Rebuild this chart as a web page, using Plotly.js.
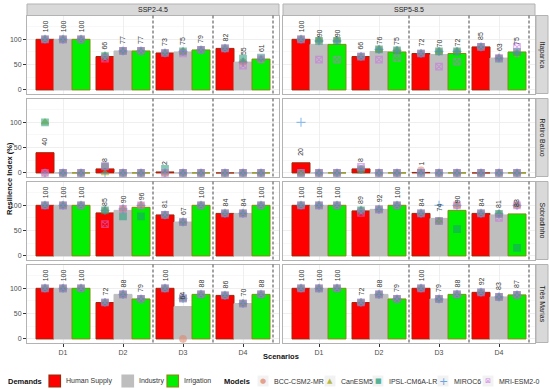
<!DOCTYPE html>
<html><head><meta charset="utf-8">
<script src="https://cdn.plot.ly/plotly-3.0.1.min.js"></script>
<style>html,body{margin:0;padding:0;background:#fff}#chart{width:550px;height:389px}</style>
</head><body><div id="chart"></div>
<script>
const scenarios = ['SSP2-4.5', 'SSP5-8.5'];
const reservoirs = ['Itaparica', 'Retiro Baixo', 'Sobradinho', 'Três Marias'];
const droughts = ['D1', 'D2', 'D3', 'D4'];
const demands = ['Human Supply', 'Industry', 'Irrigation'];
const models = ['BCC-CSM2-MR', 'CanESM5', 'IPSL-CM6A-LR', 'MIROC6', 'MRI-ESM2-0'];

// Ensemble bars: [reservoir][drought]
const humanSSP245 = [[100,66,73,82],[40,8,2,0],[100,85,81,84],[100,72,100,86]];
const industrySSP245 = [[100,77,75,55],[0,0,0,0],[100,90,67,84],[100,88,64,70]];
const irrigationSSP245 = [[100,77,79,61],[0,0,0,0],[100,96,100,100],[100,79,88,88]];
const humanSSP585 = [[100,66,72,85],[20,8,1,0],[100,89,84,84],[100,72,100,92]];
const industrySSP585 = [[90,76,70,63],[0,0,0,0],[100,92,74,81],[100,88,79,83]];
const irrigationSSP585 = [[90,75,72,75],[0,0,0,0],[100,100,90,83],[100,79,88,87]];

// Model values: [reservoir][demand][drought]
const bccSSP245 = [
  [[100,67,73,82],[100,77,75,55],[100,77,79,60]],
  [[0,13,0,0],[0,0,0,0],[0,0,0,0]],
  [[100,90,81,84],[100,93,67,84],[100,100,100,100]],
  [[100,72,100,86],[100,88,0,70],[100,79,88,88]]];
const canSSP245 = [
  [[100,67,73,82],[100,77,76,55],[100,77,79,60]],
  [[100,0,0,0],[0,0,0,0],[0,0,0,0]],
  [[100,90,81,84],[100,93,67,84],[100,100,100,100]],
  [[100,72,100,86],[100,88,80,70],[100,79,88,88]]];
const ipslSSP245 = [
  [[100,67,73,82],[100,77,76,62],[100,77,79,64]],
  [[100,13,8,0],[0,0,0,0],[0,0,0,0]],
  [[100,90,81,84],[100,78,67,84],[100,78,100,100]],
  [[100,72,100,86],[100,88,80,70],[100,79,88,88]]];
const mirocSSP245 = [
  [[100,67,73,82],[100,77,76,55],[100,77,79,60]],
  [[0,0,0,0],[0,0,0,0],[0,0,0,0]],
  [[100,90,81,84],[100,93,67,84],[100,100,100,100]],
  [[100,72,100,86],[100,88,80,70],[100,79,88,88]]];
const mriSSP245 = [
  [[100,62,73,82],[100,77,72,48],[100,77,79,61]],
  [[0,13,0,0],[0,0,0,0],[0,0,0,0]],
  [[100,63,81,84],[100,93,67,84],[100,100,100,100]],
  [[100,72,100,86],[100,88,80,70],[100,79,88,88]]];

const bccSSP585 = [
  [[100,66,72,85],[98,80,76,63],[98,78,76,72]],
  [[0,7,5,0],[0,0,0,0],[0,0,0,0]],
  [[100,90,84,84],[100,92,69,83],[100,100,100,100]],
  [[100,72,100,92],[100,88,79,83],[100,79,88,87]]];
const canSSP585 = [
  [[100,66,72,85],[98,80,76,63],[98,78,76,72]],
  [[0,7,0,0],[0,0,0,0],[0,0,0,0]],
  [[100,90,84,84],[100,92,69,83],[100,100,100,100]],
  [[100,72,100,92],[100,88,79,83],[100,79,88,87]]];
const ipslSSP585 = [
  [[100,66,72,85],[97,80,76,62],[97,78,76,75]],
  [[0,7,0,0],[0,0,0,0],[0,0,0,0]],
  [[100,90,84,84],[100,92,69,83],[100,100,53,16]],
  [[100,72,100,92],[100,88,79,83],[100,79,88,87]]];
const mirocSSP585 = [
  [[100,66,72,85],[97,80,76,63],[97,78,76,73]],
  [[100,7,0,0],[0,0,0,0],[0,0,0,0]],
  [[100,90,84,84],[100,92,100,83],[100,100,100,100]],
  [[100,72,100,92],[100,88,79,83],[100,79,88,87]]];
const mriSSP585 = [
  [[100,66,72,85],[60,60,46,63],[60,63,56,85]],
  [[0,12,0,0],[0,0,0,0],[0,0,0,0]],
  [[100,85,84,84],[100,92,69,75],[100,100,100,100]],
  [[100,72,100,92],[100,88,79,83],[100,79,88,87]]];

const barData = [[humanSSP245, industrySSP245, irrigationSSP245], [humanSSP585, industrySSP585, irrigationSSP585]];
const modelData = [[bccSSP245, canSSP245, ipslSSP245, mirocSSP245, mriSSP245],
                   [bccSSP585, canSSP585, ipslSSP585, mirocSSP585, mriSSP585]];

const barFill = ['#FF0000', '#BEBEBE', '#00F000'];
const barLine = ['#9A2A0A', '#BEBEBE', '#8A8A10'];
const modelColor = ['#E0866A', '#A3A500', '#1F9E78', '#3A8FE0', '#C86BE3'];
const modelSymbol = ['circle', 'triangle-up', 'square', 'cross-thin-open', 'square-x-open'];
const modelGlyph = ['●', '▲', '■', '+', '⊠'];

const W = 550, H = 389;
const py = p => (H - p) / H;   // pixel row (from top) -> paper y
const px = p => p / W;
const colPx = [[27, 279], [283, 535]];
const rowTop = [15.5, 98.5, 181.5, 264.5];
const rowH = 78;
const catPx = (colPx[0][1] - colPx[0][0]) / 4.2;   // pixels per category
const FONT = 'Liberation Sans, Arial, sans-serif';

const traces = [];
const layout = {
  width: W, height: H, margin: {l: 0, r: 0, t: 0, b: 0},
  paper_bgcolor: '#fff', plot_bgcolor: '#fff', showlegend: false,
  font: {family: FONT, size: 7, color: '#4d4d4d'},
  barmode: 'group', bargap: 0.1, bargroupgap: 0,
  scattermode: 'group', scattergap: 0.1,
  shapes: [], annotations: []
};

for (let r = 0; r < 4; r++) {
  for (let c = 0; c < 2; c++) {
    const n = r * 2 + c + 1;
    const s = n === 1 ? '' : String(n);
    layout['xaxis' + s] = {
      domain: [px(colPx[c][0]), px(colPx[c][1])], anchor: 'y' + s, type: 'category',
      categoryorder: 'array', categoryarray: droughts,
      range: [-0.6, 3.6], showgrid: true, gridcolor: '#ebebeb', gridwidth: 0.8,
      showline: true, mirror: true, linecolor: '#b3b3b3', linewidth: 1, zeroline: false,
      ticks: r === 3 ? 'outside' : '', ticklen: 3, tickcolor: '#333', showticklabels: r === 3,
      tickfont: {size: 7, color: '#4d4d4d'}, fixedrange: true
    };
    layout['yaxis' + s] = {
      domain: [py(rowTop[r] + rowH), py(rowTop[r])], anchor: 'x' + s, range: [-7, 147], tickvals: [0, 50, 100],
      showgrid: true, gridcolor: '#ebebeb', gridwidth: 0.8,
      minor: {tickvals: [25, 75, 125], showgrid: true, gridcolor: '#f4f4f4', gridwidth: 0.6},
      showline: true, mirror: true, linecolor: '#b3b3b3', linewidth: 1, zeroline: false,
      ticks: c === 0 ? 'outside' : '', ticklen: 3, tickcolor: '#333', showticklabels: c === 0,
      tickfont: {size: 7, color: '#4d4d4d'}, fixedrange: true
    };
    for (let d = 0; d < 3; d++) {
      const vals = barData[c][d][r];
      traces.push({
        type: 'bar', x: droughts, y: vals, xaxis: 'x' + s, yaxis: 'y' + s,
        name: demands[d], offsetgroup: demands[d],
        marker: {color: barFill[d], line: {color: barLine[d], width: 1}}, hoverinfo: 'skip'
      });
      // value labels, rotated, above each bar
      vals.forEach((v, i) => {
        if (v <= 0) return;
        layout.annotations.push({xref: 'x' + s, yref: 'y' + s, x: droughts[i], y: v,
          xshift: (d - 1) * 0.3 * catPx, yshift: 5, text: String(v), showarrow: false, textangle: -90,
          xanchor: 'center', yanchor: 'bottom', font: {size: 7, color: '#333'}});
      });
    }
    [1.5, 2.5, 3.5].forEach(xv => {
      layout.shapes.push({type: 'line', xref: 'x' + s, yref: 'y' + s + ' domain', x0: xv, x1: xv, y0: 0, y1: 1,
        line: {color: '#666', width: 1.2, dash: '3px,2px'}, layer: 'above'});
    });
    for (let m = 0; m < 5; m++) {
      for (let d = 0; d < 3; d++) {
        traces.push({
          type: 'scatter', mode: 'markers', x: droughts, y: modelData[c][m][r][d],
          xaxis: 'x' + s, yaxis: 'y' + s, offsetgroup: demands[d], name: models[m],
          marker: {symbol: modelSymbol[m], color: modelColor[m], size: 6.5, opacity: 0.55,
            line: {color: modelColor[m], width: 1.2}},
          cliponaxis: false, hoverinfo: 'skip'
        });
      }
    }
  }
}

// facet strips
scenarios.forEach((sc, c) => {
  layout.shapes.push({type: 'rect', xref: 'paper', yref: 'paper', x0: px(colPx[c][0]), x1: px(colPx[c][1]),
    y0: py(15.5), y1: py(4), fillcolor: '#d9d9d9', line: {color: '#b3b3b3', width: 1}, layer: 'below'});
  layout.annotations.push({xref: 'paper', yref: 'paper', x: px((colPx[c][0] + colPx[c][1]) / 2), y: py(9.8),
    text: sc, showarrow: false, font: {size: 7, color: '#1a1a1a'}, xanchor: 'center', yanchor: 'middle'});
});
reservoirs.forEach((rv, r) => {
  layout.shapes.push({type: 'rect', xref: 'paper', yref: 'paper', x0: px(536), x1: px(548),
    y0: py(rowTop[r] + rowH), y1: py(rowTop[r]), fillcolor: '#d9d9d9', line: {color: '#b3b3b3', width: 1}, layer: 'below'});
  layout.annotations.push({xref: 'paper', yref: 'paper', x: px(542), y: py(rowTop[r] + rowH / 2),
    text: rv, showarrow: false, textangle: 90, font: {size: 7, color: '#1a1a1a'}, xanchor: 'center', yanchor: 'middle'});
});
// axis titles
layout.annotations.push({xref: 'paper', yref: 'paper', x: px(9), y: py(179), text: '<b>Resilience Index (%)</b>',
  showarrow: false, textangle: -90, font: {size: 7.5, color: '#111'}, xanchor: 'center', yanchor: 'middle'});
layout.annotations.push({xref: 'paper', yref: 'paper', x: px(281), y: py(356), text: '<b>Scenarios</b>',
  showarrow: false, font: {size: 7.5, color: '#111'}, xanchor: 'center', yanchor: 'middle'});

// legend (drawn as layout items)
const LY = 381;
const legendText = (x, t, bold) => layout.annotations.push({xref: 'paper', yref: 'paper', x: px(x), y: py(LY),
  text: bold ? '<b>' + t + '</b>' : t, showarrow: false, xanchor: 'left', yanchor: 'middle',
  font: {size: bold ? 7.5 : 7, color: bold ? '#111' : '#333'}});
legendText(6, 'Demands', true);
const demandKeyX = [49, 122, 167];
demands.forEach((dm, d) => {
  const k = demandKeyX[d];
  layout.shapes.push({type: 'rect', xref: 'paper', yref: 'paper', x0: px(k), x1: px(k + 11.5),
    y0: py(LY + 6), y1: py(LY - 6), fillcolor: barFill[d], line: {color: barLine[d], width: 1.2}});
  legendText(k + 15, dm, false);
});
legendText(222, 'Models', true);
const modelKeyX = [263, 330, 378, 443, 488];
models.forEach((md, m) => {
  const k = modelKeyX[m];
  layout.shapes.push({type: 'rect', xref: 'paper', yref: 'paper', x0: px(k - 5.5), x1: px(k + 5.5),
    y0: py(LY + 5.5), y1: py(LY - 5.5), fillcolor: '#f2f2f2', line: {width: 0}, layer: 'below'});
  layout.annotations.push({xref: 'paper', yref: 'paper', x: px(k), y: py(LY), text: modelGlyph[m],
    showarrow: false, xanchor: 'center', yanchor: 'middle', opacity: 0.75,
    font: {size: m === 3 ? 11 : 7, color: modelColor[m], family: 'DejaVu Sans'}});
  legendText(k + 9, md, false);
});

Plotly.newPlot('chart', traces, layout, {staticPlot: true, displayModeBar: false});
</script>
</body></html>
